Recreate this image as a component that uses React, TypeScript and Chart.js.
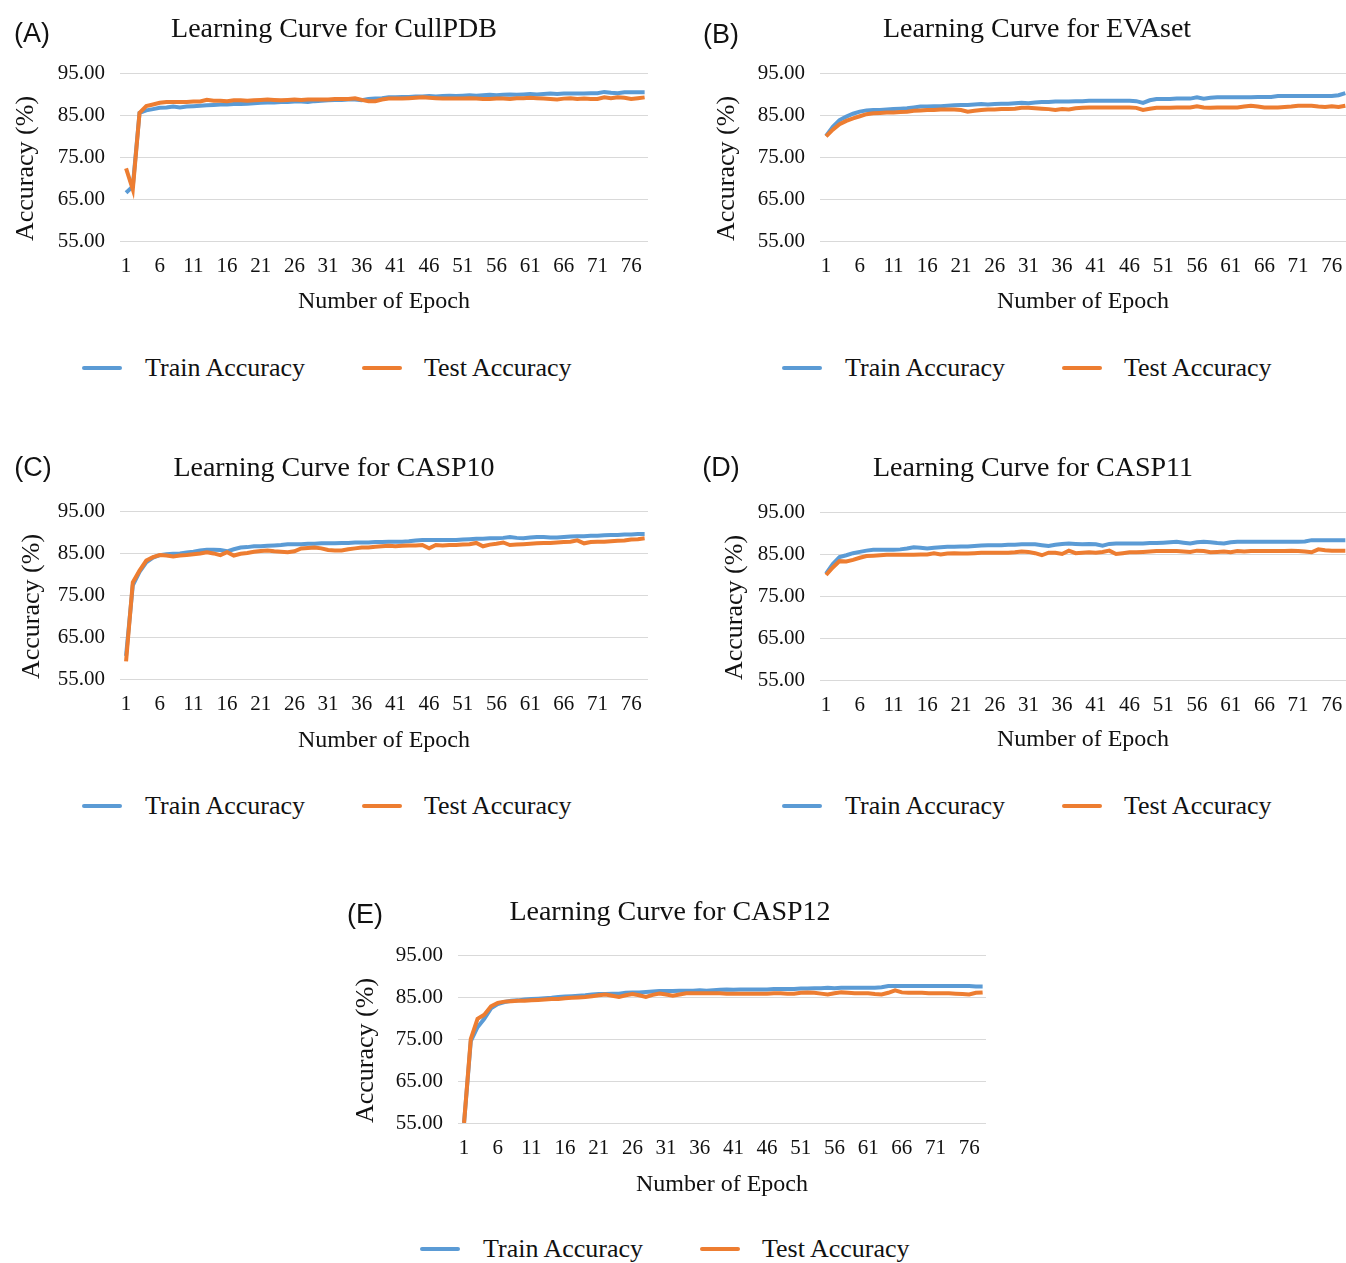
import React, { useEffect, useRef } from "react";
import { Chart, registerables } from "chart.js";

Chart.register(...registerables);

// ---------- data ----------
const epochs: number[] = Array.from({ length: 78 }, (_, i) => i + 1);
const xTickValues = [1, 6, 11, 16, 21, 26, 31, 36, 41, 46, 51, 56, 61, 66, 71, 76];
const yTickValues = [55, 65, 75, 85, 95];
const seriesNames = ["Train Accuracy", "Test Accuracy"];

const cullpdbTrain = [
  66.5, 68.0, 85.5, 86.1, 86.4, 86.7, 86.8, 87.0, 86.8, 87.0,
  87.1, 87.2, 87.3, 87.4, 87.5, 87.5, 87.6, 87.6, 87.7, 87.8,
  87.9, 88.0, 88.0, 88.1, 88.1, 88.2, 88.2, 88.1, 88.3, 88.4,
  88.5, 88.6, 88.6, 88.7, 88.7, 88.5, 88.8, 88.9, 89.0, 89.2,
  89.2, 89.3, 89.3, 89.4, 89.4, 89.5, 89.4, 89.5, 89.6, 89.5,
  89.6, 89.7, 89.6, 89.7, 89.8, 89.7, 89.8, 89.9, 89.8, 89.9,
  90.0, 89.9, 90.0, 90.1, 90.0, 90.1, 90.1, 90.1, 90.1, 90.2,
  90.2, 90.5, 90.3, 90.2, 90.4, 90.4, 90.4, 90.4,
];
const cullpdbTest = [
  72.3, 67.3, 85.5, 87.1, 87.5, 87.9, 88.1, 88.1, 88.1, 88.1,
  88.2, 88.2, 88.6, 88.4, 88.4, 88.3, 88.5, 88.5, 88.4, 88.5,
  88.6, 88.7, 88.6, 88.5, 88.6, 88.7, 88.6, 88.7, 88.7, 88.7,
  88.7, 88.8, 88.8, 88.8, 89.0, 88.6, 88.3, 88.3, 88.7, 88.9,
  88.9, 88.9, 89.0, 89.1, 89.2, 89.1, 89.0, 88.9, 88.9, 88.9,
  88.9, 89.0, 88.9, 88.8, 88.8, 88.9, 88.9, 88.8, 89.0, 89.0,
  89.1, 89.0, 88.9, 88.8, 88.7, 88.9, 89.0, 88.8, 88.9, 88.8,
  88.8, 89.2, 89.0, 89.2, 89.1, 88.8, 89.0, 89.2,
];
const evasetTrain = [
  80.0, 82.2, 83.8, 84.6, 85.3, 85.8, 86.1, 86.2, 86.2, 86.3,
  86.4, 86.5, 86.6, 86.8, 87.0, 87.0, 87.1, 87.1, 87.2, 87.3,
  87.4, 87.4, 87.5, 87.6, 87.5, 87.6, 87.7, 87.7, 87.8, 87.9,
  87.8, 88.0, 88.1, 88.1, 88.2, 88.2, 88.2, 88.3, 88.3, 88.4,
  88.4, 88.4, 88.4, 88.4, 88.4, 88.4, 88.3, 87.9, 88.5, 88.8,
  88.8, 88.8, 88.9, 88.9, 88.9, 89.2, 88.9, 89.1, 89.2, 89.2,
  89.2, 89.2, 89.2, 89.2, 89.3, 89.3, 89.3, 89.5, 89.5, 89.5,
  89.5, 89.5, 89.5, 89.5, 89.5, 89.5, 89.7, 90.2,
];
const evasetTest = [
  79.9, 81.5, 82.8, 83.6, 84.2, 84.7, 85.2, 85.4, 85.5, 85.6,
  85.6, 85.7, 85.8, 86.0, 86.1, 86.2, 86.2, 86.3, 86.3, 86.3,
  86.2, 85.8, 86.0, 86.2, 86.3, 86.3, 86.4, 86.4, 86.5, 86.7,
  86.7, 86.6, 86.5, 86.4, 86.2, 86.4, 86.3, 86.6, 86.7, 86.8,
  86.8, 86.8, 86.8, 86.8, 86.8, 86.8, 86.7, 86.2, 86.5, 86.7,
  86.7, 86.7, 86.8, 86.8, 86.8, 87.1, 86.8, 86.7, 86.8, 86.8,
  86.8, 86.8, 87.0, 87.2, 87.0, 86.8, 86.8, 86.8, 86.9, 87.0,
  87.2, 87.2, 87.2, 87.0, 86.9, 87.1, 86.9, 87.2,
];
const casp10Train = [
  60.5, 77.3, 80.5, 82.8, 83.9, 84.5, 84.7, 84.8, 84.9, 85.1,
  85.3, 85.6, 85.8, 85.8, 85.7, 85.4, 85.9, 86.3, 86.4, 86.6,
  86.6, 86.7, 86.8, 86.9, 87.1, 87.1, 87.1, 87.2, 87.2, 87.3,
  87.3, 87.3, 87.4, 87.4, 87.5, 87.5, 87.5, 87.6, 87.6, 87.7,
  87.7, 87.7, 87.8, 88.0, 88.1, 88.1, 88.1, 88.1, 88.1, 88.1,
  88.2, 88.3, 88.4, 88.4, 88.5, 88.5, 88.6, 88.8, 88.6, 88.5,
  88.7, 88.8, 88.8, 88.7, 88.7, 88.8, 88.9, 89.0, 89.0, 89.1,
  89.1, 89.2, 89.3, 89.3, 89.4, 89.4, 89.5, 89.5,
];
const casp10Test = [
  59.2, 78.0, 80.8, 83.2, 84.0, 84.5, 84.4, 84.2, 84.4, 84.5,
  84.7, 84.9, 85.2, 84.9, 84.5, 85.2, 84.4, 84.8, 85.0, 85.3,
  85.5, 85.6, 85.4, 85.3, 85.2, 85.4, 86.1, 86.2, 86.3, 86.1,
  85.7, 85.6, 85.6, 85.9, 86.1, 86.3, 86.3, 86.5, 86.6, 86.7,
  86.6, 86.7, 86.8, 86.8, 86.9, 86.1, 86.9, 86.8, 86.9, 86.9,
  87.0, 87.1, 87.4, 86.6, 87.0, 87.2, 87.5, 86.9, 87.0, 87.1,
  87.2, 87.3, 87.4, 87.4, 87.5, 87.6, 87.7, 88.0, 87.3, 87.6,
  87.7, 87.7, 87.8, 87.9, 88.0, 88.2, 88.3, 88.5,
];
const casp11Train = [
  80.3, 82.6, 84.3, 84.7, 85.2, 85.5, 85.8, 86.0, 86.0, 86.0,
  86.0, 86.1, 86.3, 86.6, 86.5, 86.3, 86.5, 86.6, 86.7, 86.7,
  86.8, 86.8, 86.9, 87.0, 87.1, 87.1, 87.1, 87.2, 87.2, 87.3,
  87.3, 87.3, 87.1, 86.9, 87.2, 87.4, 87.5, 87.4, 87.3, 87.4,
  87.3, 87.0, 87.4, 87.5, 87.5, 87.5, 87.5, 87.5, 87.6, 87.6,
  87.7, 87.8, 87.9, 87.7, 87.5, 87.8, 87.9, 87.8, 87.6, 87.5,
  87.8, 87.9, 87.9, 87.9, 87.9, 87.9, 87.9, 87.9, 87.9, 87.9,
  87.9, 88.0, 88.3, 88.3, 88.3, 88.3, 88.3, 88.3,
];
const casp11Test = [
  80.0, 81.8, 83.3, 83.2, 83.6, 84.1, 84.5, 84.6, 84.7, 84.8,
  84.8, 84.8, 84.8, 84.8, 84.9, 84.9, 85.2, 84.9, 85.1, 85.2,
  85.1, 85.1, 85.2, 85.3, 85.3, 85.3, 85.3, 85.3, 85.4, 85.6,
  85.5, 85.2, 84.7, 85.3, 85.3, 85.0, 85.8, 85.2, 85.3, 85.4,
  85.3, 85.5, 85.8, 85.0, 85.2, 85.4, 85.4, 85.5, 85.6, 85.7,
  85.7, 85.7, 85.7, 85.6, 85.5, 85.8, 85.7, 85.4, 85.5, 85.6,
  85.4, 85.7, 85.6, 85.7, 85.7, 85.7, 85.7, 85.7, 85.7, 85.8,
  85.7, 85.6, 85.4, 86.1, 85.9, 85.8, 85.8, 85.8,
];
const casp12Train = [
  55.0, 74.5, 77.8, 79.8, 82.3, 83.3, 83.8, 84.1, 84.2, 84.4,
  84.5, 84.6, 84.7, 84.8, 85.0, 85.1, 85.2, 85.3, 85.4, 85.6,
  85.7, 85.7, 85.8, 85.8, 86.0, 86.1, 86.1, 86.2, 86.3, 86.4,
  86.4, 86.4, 86.5, 86.5, 86.5, 86.6, 86.5, 86.6, 86.7, 86.8,
  86.7, 86.8, 86.8, 86.8, 86.8, 86.8, 86.9, 86.9, 86.9, 86.9,
  87.0, 87.0, 87.1, 87.1, 87.2, 87.1, 87.2, 87.2, 87.2, 87.2,
  87.2, 87.2, 87.3, 87.6, 87.6, 87.6, 87.6, 87.6, 87.6, 87.6,
  87.6, 87.6, 87.6, 87.6, 87.6, 87.6, 87.5, 87.5,
];
const casp12Test = [
  55.0, 75.0, 79.8, 80.8, 82.8, 83.6, 83.9, 84.0, 84.1, 84.1,
  84.2, 84.3, 84.4, 84.5, 84.5, 84.7, 84.8, 84.9, 85.0, 85.2,
  85.4, 85.6, 85.3, 85.0, 85.4, 85.7, 85.4, 85.0, 85.5, 85.8,
  85.6, 85.3, 85.6, 85.9, 85.9, 85.9, 85.9, 85.9, 85.9, 85.8,
  85.8, 85.8, 85.8, 85.8, 85.8, 85.8, 85.9, 85.9, 85.8, 85.8,
  86.0, 86.1, 86.0, 85.8, 85.6, 85.9, 86.1, 86.0, 85.9, 85.9,
  85.9, 85.7, 85.6, 86.0, 86.6, 86.1, 86.0, 86.0, 86.0, 85.9,
  85.9, 85.9, 85.9, 85.8, 85.7, 85.6, 86.0, 86.1,
];

// ---------- styling ----------
const BLUE = "#5B9BD5";
const ORANGE = "#ED7D31";
const GRID = "#D9D9D9";
const SERIF = "'Liberation Serif', 'Times New Roman', serif";
const SANS = "'Liberation Sans', Arial, sans-serif";
const TEXT = "#111";

type PanelSpec = {
  letter: string;
  title: string;
  train: number[];
  test: number[];
  plotLeft: number;
  plotRight: number;
  plotTop: number;
  plotBottom: number;
  xMax: number;
  letterX: number;
  letterY: number;
  titleX: number;
  titleY: number;
  xTitleY: number;
  yTitleX: number;
  legendX: number;
  legendY: number;
};

const panels: PanelSpec[] = [
  {
    letter: "(A)", title: "Learning Curve for CullPDB", train: cullpdbTrain, test: cullpdbTest,
    plotLeft: 120, plotRight: 648, plotTop: 73, plotBottom: 241, xMax: 78.5,
    letterX: 32, letterY: 33, titleX: 334, titleY: 28, xTitleY: 302, yTitleX: 26, legendX: 82, legendY: 368,
  },
  {
    letter: "(B)", title: "Learning Curve for EVAset", train: evasetTrain, test: evasetTest,
    plotLeft: 820, plotRight: 1346, plotTop: 73, plotBottom: 241, xMax: 78.1,
    letterX: 721, letterY: 34, titleX: 1037, titleY: 28, xTitleY: 302, yTitleX: 727, legendX: 782, legendY: 368,
  },
  {
    letter: "(C)", title: "Learning Curve for CASP10", train: casp10Train, test: casp10Test,
    plotLeft: 120, plotRight: 648, plotTop: 511, plotBottom: 679, xMax: 78.5,
    letterX: 33, letterY: 467, titleX: 334, titleY: 467, xTitleY: 741, yTitleX: 32, legendX: 82, legendY: 806,
  },
  {
    letter: "(D)", title: "Learning Curve for CASP11", train: casp11Train, test: casp11Test,
    plotLeft: 820, plotRight: 1346, plotTop: 512, plotBottom: 680, xMax: 78.1,
    letterX: 721, letterY: 467, titleX: 1033, titleY: 467, xTitleY: 740, yTitleX: 735, legendX: 782, legendY: 806,
  },
  {
    letter: "(E)", title: "Learning Curve for CASP12", train: casp12Train, test: casp12Test,
    plotLeft: 458, plotRight: 986, plotTop: 955, plotBottom: 1123, xMax: 78.5,
    letterX: 365, letterY: 914, titleX: 670, titleY: 911, xTitleY: 1185, yTitleX: 366, legendX: 420, legendY: 1249,
  },
];

const Y_AXIS_WIDTH = 120;
const TOP_PAD = 34;
const RIGHT_PAD = 16;
const X_TITLE_FONT = 24;
const Y_TITLE_FONT = 26;
const TICK_FONT = 21;

function PanelChart({ p }: { p: PanelSpec }) {
  const ref = useRef<HTMLCanvasElement | null>(null);
  const canvasLeft = p.plotLeft - Y_AXIS_WIDTH;
  const canvasTop = p.plotTop - TOP_PAD;
  const canvasRight = p.plotRight + RIGHT_PAD;
  const canvasBottom = Math.ceil(p.xTitleY + 20);
  const W = canvasRight - canvasLeft;
  const H = canvasBottom - canvasTop;
  const xAxisHeight = canvasBottom - p.plotBottom;
  const xTitleLine = X_TITLE_FONT * 1.2;
  const xTitlePadBottom = canvasBottom - p.xTitleY - xTitleLine / 2;
  const yTitleLine = Y_TITLE_FONT * 1.2;
  const yTitlePadTop = p.yTitleX - canvasLeft - yTitleLine / 2;

  useEffect(() => {
    if (!ref.current) return;
    const chart = new Chart(ref.current, {
      type: "line",
      data: {
        labels: epochs,
        datasets: [
          {
            label: seriesNames[0],
            data: p.train,
            borderColor: BLUE,
            backgroundColor: BLUE,
            borderWidth: 4,
            pointRadius: 0,
            tension: 0,
            order: 2,
          },
          {
            label: seriesNames[1],
            data: p.test,
            borderColor: ORANGE,
            backgroundColor: ORANGE,
            borderWidth: 4,
            pointRadius: 0,
            tension: 0,
            order: 1,
          },
        ],
      },
      options: {
        responsive: false,
        animation: false,
        devicePixelRatio: 1,
        layout: { padding: { left: 0, top: TOP_PAD, right: RIGHT_PAD, bottom: 0 } },
        plugins: {
          legend: { display: false },
          title: { display: false },
          tooltip: { enabled: false },
        },
        events: [],
        scales: {
          x: {
            type: "linear",
            min: 0.1,
            max: p.xMax,
            afterBuildTicks: (scale: any) => {
              scale.ticks = xTickValues.map((v) => ({ value: v }));
            },
            afterFit: (scale: any) => {
              scale.height = xAxisHeight;
            },
            grid: { display: false, drawTicks: false },
            border: { display: false },
            ticks: {
              autoSkip: false,
              maxRotation: 0,
              padding: 13,
              color: TEXT,
              font: { family: SERIF, size: TICK_FONT },
              callback: (v: any) => String(v),
            },
            title: {
              display: true,
              text: "Number of Epoch",
              color: TEXT,
              font: { family: SERIF, size: X_TITLE_FONT },
              padding: { top: 0, bottom: xTitlePadBottom },
            },
          },
          y: {
            type: "linear",
            min: 55,
            max: 95,
            afterBuildTicks: (scale: any) => {
              scale.ticks = yTickValues.map((v) => ({ value: v }));
            },
            afterFit: (scale: any) => {
              scale.width = Y_AXIS_WIDTH;
            },
            grid: { color: GRID, lineWidth: 1, drawTicks: false },
            border: { display: false },
            ticks: {
              padding: 15,
              color: TEXT,
              font: { family: SERIF, size: TICK_FONT },
              callback: (v: any) => Number(v).toFixed(2),
            },
            title: {
              display: true,
              text: "Accuracy (%)",
              align: "start",
              color: TEXT,
              font: { family: SERIF, size: Y_TITLE_FONT },
              padding: { top: yTitlePadTop, bottom: 0 },
            },
          },
        },
      } as any,
    });
    return () => chart.destroy();
  }, []);

  return (
    <canvas
      ref={ref}
      width={W}
      height={H}
      style={{ position: "absolute", left: canvasLeft, top: canvasTop, width: W, height: H }}
    />
  );
}

function Text({ x, y, size, family, children }: { x: number; y: number; size: number; family: string; children: React.ReactNode }) {
  return (
    <div
      style={{
        position: "absolute",
        left: x,
        top: y,
        transform: "translate(-50%, -50%)",
        fontFamily: family,
        fontSize: size,
        lineHeight: 1,
        color: TEXT,
        whiteSpace: "nowrap",
      }}
    >
      {children}
    </div>
  );
}

function LeftText({ x, y, size, children }: { x: number; y: number; size: number; children: React.ReactNode }) {
  return (
    <div
      style={{
        position: "absolute",
        left: x,
        top: y,
        transform: "translateY(-50%)",
        fontFamily: SERIF,
        fontSize: size,
        lineHeight: 1,
        color: TEXT,
        whiteSpace: "nowrap",
      }}
    >
      {children}
    </div>
  );
}

function Legend({ x, y }: { x: number; y: number }) {
  const swatch = (left: number, color: string) => (
    <div style={{ position: "absolute", left, top: y - 2, width: 40, height: 4, borderRadius: 2, background: color }} />
  );
  return (
    <>
      {swatch(x, BLUE)}
      <LeftText x={x + 63} y={y} size={26}>{seriesNames[0]}</LeftText>
      {swatch(x + 280, ORANGE)}
      <LeftText x={x + 342} y={y} size={26}>{seriesNames[1]}</LeftText>
    </>
  );
}

export default function App() {
  return (
    <div
      style={{
        position: "absolute",
        left: 0,
        top: 0,
        width: 1346,
        height: 1263,
        overflow: "hidden",
        background: "#fff",
      }}
    >
      {panels.map((p) => (
        <React.Fragment key={p.letter}>
          <PanelChart p={p} />
          <Text x={p.letterX} y={p.letterY} size={27} family={SANS}>{p.letter}</Text>
          <Text x={p.titleX} y={p.titleY} size={28} family={SERIF}>{p.title}</Text>
          <Legend x={p.legendX} y={p.legendY} />
        </React.Fragment>
      ))}
    </div>
  );
}
